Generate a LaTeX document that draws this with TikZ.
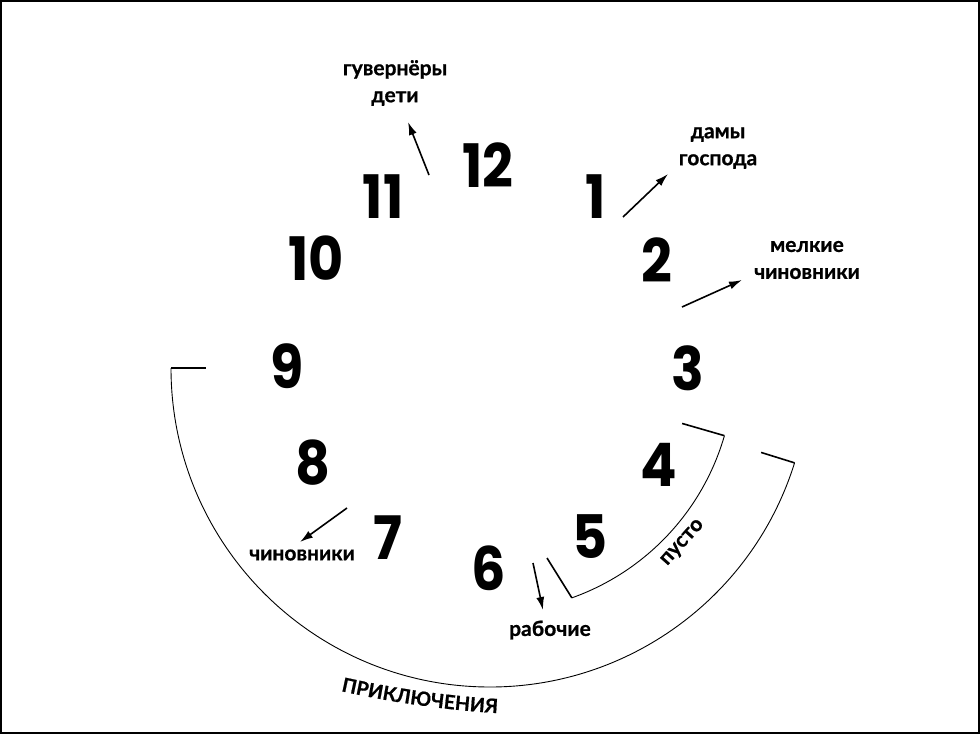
\documentclass[tikz,border=0pt]{standalone}
\usepackage{fontspec}
\usepackage{tikz}
\usetikzlibrary{calc,positioning,arrows.meta,decorations.text}
\newfontfamily\numfont{Poppins}[FakeStretch=0.9]
\newfontfamily\labelfont{Lato}[BoldFeatures={FakeBold=0.8}]
\newcommand\advstyle{\labelfont\bfseries\fontsize{19.5}{20}\selectfont}

\begin{document}
\begin{tikzpicture}[x=1pt, y=1pt, >={Latex[length=13pt,width=8pt]},
        hour/.style={inner sep=0pt, font=\numfont\bfseries\fontsize{60}{60}\selectfont},
        group/.style={align=center, inner sep=0pt, font=\labelfont\bfseries\fontsize{21}{27}\selectfont},
        flow/.style={->, line width=1.6pt},
        bracket/.style={line width=0.9pt},
        tick/.style={line width=1.6pt}]
        \useasboundingbox (0,0) rectangle (980,-734);
        \draw[line width=2pt] (1,-1) rectangle (979,-733);

        % clock face
        \foreach \h/\x/\y in {12/488/165, 1/596/197, 2/657/260, 3/688/368, 4/659/465, 5/590/537,
                              6/489/568, 7/388/538, 8/313/463, 9/287/366, 10/316/258, 11/383/197}
            \node[hour] (h\h) at (\x,-\y) {\h};

        \node[group] (kids) at (395,-83) {гувернёры\\дети};
        \node[group] (ladies) at (718,-148) {дамы\\господа};
        \node[group] (clerks) at (807,-260) {мелкие\\чиновники};
        \node[group] (officials) at (302,-555) {чиновники};
        \node[group] (workers) at (550,-630) {рабочие};
        \node[group, rotate=48] (empty) at (683,-543) {пусто};

        \coordinate (kids tail) at (429,-175);
        \coordinate (kids tip) at (408,-122);
        \coordinate (ladies tail) at (623,-217);
        \coordinate (ladies tip) at (668,-174);
        \coordinate (clerks tail) at (682,-307);
        \coordinate (clerks tip) at (742,-280);
        \coordinate (officials tail) at (347,-508);
        \coordinate (officials tip) at (300,-542);
        \coordinate (workers tail) at (533,-563);
        \coordinate (workers tip) at (543,-610);

        \draw[flow] (kids tail) -- (kids tip);
        \draw[flow] (ladies tail) -- (ladies tip);
        \draw[flow] (clerks tail) -- (clerks tip);
        \draw[flow] (officials tail) -- (officials tip);
        \draw[flow] (workers tail) -- (workers tip);

        % brackets
        \coordinate (c) at (490,-368);
        \draw[bracket] ($(c)+(180:319)$) arc[start angle=180, end angle=342.7, radius=319];
        \draw[tick] ($(c)+(180:319)$) -- ($(c)+(180:284)$);
        \draw[tick] ($(c)+(342.7:319)$) -- ($(c)+(342.7:284)$);

        \draw[bracket] ($(c)+(289.6:244)$) arc[start angle=289.6, end angle=343.9, radius=244];
        \draw[tick] ($(c)+(289.6:244)$) -- (547,-558);
        \draw[tick] ($(c)+(343.9:244)$) -- ($(c)+(343.9:200)$);

        \coordinate (adv) at (559,292);
        \path[decorate, decoration={text along path, text align=center,
                text={|\advstyle|ПРИКЛЮЧЕНИЯ}}]
            ($(adv)+(255:1007)$) arc[start angle=255, end angle=269, radius=1007];
    \end{tikzpicture}
\end{document}
